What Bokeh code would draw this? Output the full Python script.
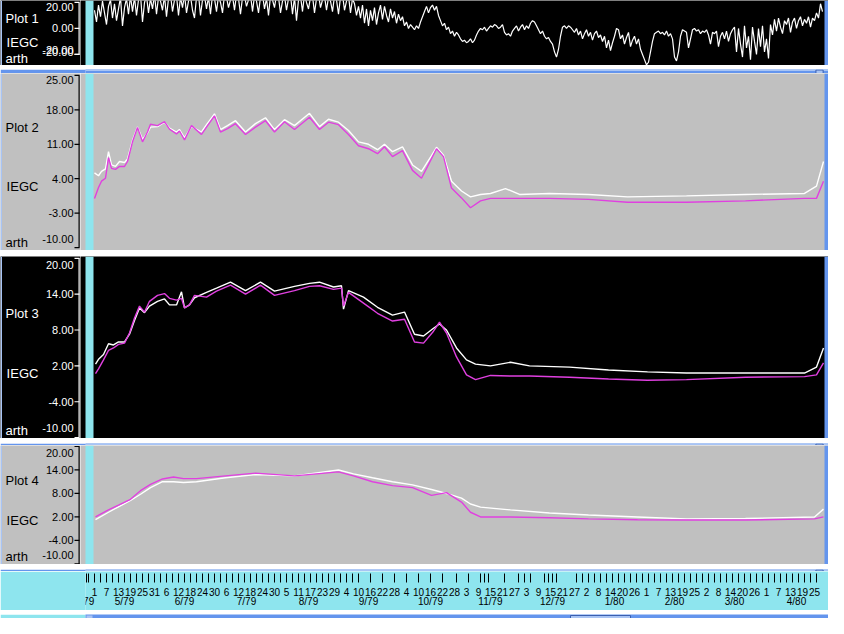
from bokeh.plotting import figure
from bokeh.layouts import column, row
from bokeh.models import Range1d
from bokeh.embed import file_html
from bokeh.resources import INLINE
from bokeh.core.properties import value

# ---------------- data ----------------
# days counted from 1 May 1979, one reading per day
p1_days = list(range(0, 365))
p1_white = [14, 5, 18, 9, 21, 12, 3, 17, 22, 8,
            19, 6, 15, 24, 2, 16, 23, 11, 25, 13,
            24, 10, 22, 26, 5, 20, 25, 12, 23, 15,
            26, 11, 24, 21, 14, 25, 9, 23, 26, 13,
            22, 25, 10, 24, 16, 26, 12, 21, 25, 14,
            8, 24, 26, 10, 22, 25, 15, 24, 11, 26,
            23, 13, 25, 20, 12, 26, 24, 16, 22, 25,
            14, 26, 23, 11, 24, 25, 17, 22, 26, 13,
            25, 21, 12, 24, 26, 15, 23, 10, 25, 22,
            16, 26, 24, 12, 21, 25, 14, 23, 26, 11,
            24, 6, 22, 25, 13, 26, 20, 15, 24, 25,
            12, 23, 26, 16, 22, 25, 14, 24, 21, 13,
            25, 22, 11, 24, 26, 14, 21, 25, 12, 23,
            19, 10, 17, 8, 18, 4, 15, 2, 14, 6,
            16, 3, 12, 18, 7, 17, 10, 5, 15, 8,
            13, 4, 11, 6, 9, 2, 5, 0, 3, 1,
            -1, 2, 0, 5, 9, 13, 17, 12, 16, 18,
            14, 17, 10, 6, 2, 4, -1, 1, -4, -2,
            -6, -3, -5, -8, -10, -9, -11, -10, -8, -11,
            -9, -5, -2, 0, -1, 1, -2, 0, 2, 1,
            3, 2, 0, 1, 3, -3, -5, -4, -6, -2,
            0, 2, -2, 1, 3, -1, 2, 0, 4, 6,
            5, 2, -1, -4, -2, -6, -8, -7, -10, -12,
            -18, -22, -16, -6, 1, 2, 0, 2, 1, -1,
            -3, 0, -5, -2, -8, -4, -1, -6, -3, -9,
            -4, -2, -7, -5, -10, -6, -15, -9, -17, -11,
            -6, 0, -1, -8, -5, -12, -7, -3, -14, -9,
            -6, -12, -8, -16, -20, -24, -28, -26, -18, -10,
            -4, -3, -2, -4, -3, -5, -2, -6, -4, -8,
            -22, -25, -18, -6, -1, -2, -3, -15, -8, -1,
            0, -2, -1, -4, -2, -3, -1, -5, -12, -3,
            -4, -2, -14, -6, -3, -8, -2, -10, -4, -1,
            1, -18, 0, -12, -22, 2, -15, -6, -24, 1,
            -10, -20, 0, -14, 2, -18, -8, -23, 3, -5,
            7, -2, 8, 1, -4, 6, 3, 8, -3, 5,
            8, 0, 6, 9, 2, 7, 4, 9, 1, 8,
            6, 12, 8, 19, 13]

p2_days = [0, 2, 3.5, 5.5, 7, 8.5, 10.5, 12.5, 15, 16.5, 19, 21.5, 24, 26.5, 28, 31.5, 35, 37.5, 41, 42.5,
           45, 48.5, 53.5, 56, 60, 63, 66.5, 70.5, 75.5, 80.5, 85.5, 90, 95, 100, 107.5, 112.5, 117, 122, 127, 132,
           137, 141.5, 145, 149, 154, 159, 163.5, 168.5, 171, 174.5, 178.5, 183.5, 188, 193, 198, 205.5, 212.5,
           227.5, 247, 266.5, 296, 325.5, 355, 361, 364.5]
p2_magenta = [0.0, 2.2, 3.5, 4.1, 8.3, 6.1, 5.9, 6.5, 6.5, 7.5, 11.5, 14.4, 11.5, 13.5, 15.1, 14.8, 15.6, 14.1, 13.1, 13.7,
              11.9, 14.8, 13.0, 14.5, 16.8, 13.5, 14.2, 15.2, 13.0, 14.5, 15.8, 13.5, 15.6, 14.0, 16.5, 14.0, 15.5, 15.0, 13.0, 10.7,
              10.1, 9.1, 10.5, 8.5, 9.7, 5.7, 4.1, 8.1, 10.1, 8.5, 2.1, 0.1, -1.9, -0.5, 0.0, 0.0, 0.0,
              0.0, -0.2, -0.8, -0.8, -0.5, 0.0, 0.0, 3.5]
p2_white = [5.2, 4.6, 5.5, 6.0, 9.5, 6.8, 6.5, 7.5, 7.3, 8.0, 11.8, 14.5, 12.0, 13.3, 14.5, 14.6, 15.5, 14.3, 13.5, 14.0,
            12.3, 14.6, 13.5, 15.0, 17.2, 14.0, 14.8, 15.8, 13.5, 15.2, 16.4, 14.0, 16.0, 14.8, 17.3, 14.6, 16.1, 15.5, 13.8, 11.5,
            11.0, 9.9, 11.0, 9.5, 10.5, 6.8, 5.5, 8.7, 10.4, 8.8, 3.5, 1.5, 0.3, 0.8, 1.0, 2.0, 0.8,
            1.0, 0.8, 0.3, 0.5, 0.8, 1.0, 2.5, 7.5]

p3_days = [0.5, 2, 4.5, 7, 9.5, 12, 15, 17.5, 20, 22.5, 25, 27.5, 31.5, 35, 37.5, 41, 43.5, 45, 47.5, 50,
           56, 61, 68, 75.5, 83, 90, 100, 107.5, 112.5, 119.5, 123.5, 124.5, 127, 134.5, 141.5, 149, 155, 160, 164.5,
           169.5, 172.5, 176, 181, 186, 190.5, 198, 208, 217.5, 237.5, 257, 276.5, 296, 325.5, 355, 361, 364.5]
p3_magenta = [0.7, 1.5, 3.0, 4.6, 5.0, 5.6, 5.8, 7.5, 10.0, 12.0, 11.0, 12.8, 13.8, 14.1, 13.3, 13.0, 13.3, 11.7, 12.2, 13.8,
              13.5, 14.5, 15.5, 14.0, 15.5, 13.8, 14.6, 15.3, 15.4, 14.8, 15.0, 12.0, 14.3, 12.5, 10.8, 9.5, 9.8, 6.0, 5.8,
              7.8, 9.3, 7.5, 3.5, 0.5, -0.3, 0.4, 0.3, 0.3, 0.1, -0.2, -0.4, -0.3, 0.1, 0.2, 0.5, 2.5]
p3_white = [2.3, 3.1, 3.9, 5.7, 5.5, 6.0, 6.0, 7.3, 9.6, 11.7, 10.9, 12.0, 12.8, 13.2, 12.2, 12.2, 14.4, 11.7, 12.2, 13.4,
            14.3, 15.0, 16.0, 14.6, 16.0, 14.5, 15.3, 15.8, 16.0, 15.2, 15.4, 11.5, 14.6, 13.5, 11.8, 10.5, 11.0, 7.3, 7.0,
            8.3, 9.0, 8.0, 5.0, 3.0, 2.3, 2.0, 2.6, 2.0, 1.8, 1.3, 1.0, 0.8, 0.8, 0.8, 1.8, 5.0]

p4_days = [0.5, 7, 12, 18, 23, 28, 34, 39.5, 44.5, 51, 65.5, 80.5, 100, 122, 129.5, 139, 149, 159, 168.5, 176,
           183.5, 188, 193, 208, 227.5, 247, 271.5, 296, 325.5, 360, 364.5]
p4_magenta = [2.0, 3.8, 5.0, 6.5, 8.7, 10.3, 11.7, 12.2, 11.8, 11.8, 12.5, 13.2, 12.5, 13.5, 12.5, 11.0, 10.0, 9.5, 7.5, 8.2,
              5.8, 3.2, 2.0, 2.0, 1.8, 1.5, 1.3, 1.2, 1.2, 1.5, 2.0]
p4_white = [1.3, 3.2, 4.6, 6.2, 7.8, 9.5, 11.0, 11.0, 10.8, 11.0, 12.0, 12.8, 12.5, 14.0, 13.0, 12.0, 11.0, 10.2, 9.0, 8.0,
            6.8, 5.3, 4.5, 3.8, 3.0, 2.5, 2.0, 1.5, 1.6, 2.0, 4.0]

p1_ticks = [20, 0, -20, -20]
p1_tick_labels = ["20.00", "0.00", "-20.00", "-20.00"]
p2_ticks = [25, 18, 11, 4, -3, -10]
p2_tick_labels = ["25.00", "18.00", "11.00", "4.00", "-3.00", "-10.00"]
p3_ticks = [20, 14, 8, 2, -4, -10]
p3_tick_labels = ["20.00", "14.00", "8.00", "2.00", "-4.00", "-10.00"]
p4_ticks = [20, 14, 8, 2, -4, -10]
p4_tick_labels = ["20.00", "14.00", "8.00", "2.00", "-4.00", "-10.00"]

day_tick_days = list(range(0, 361, 6))
day_tick_labels = ["1", "7", "13", "19", "25", "31", "6", "12", "18", "24", "30", "6", "12", "18", "24", "30",
                   "5", "11", "17", "23", "29", "4", "10", "16", "22", "28", "4", "10", "16", "22", "28",
                   "3", "9", "15", "21", "27", "3", "9", "15", "21", "27", "2", "8", "14", "20", "26",
                   "1", "7", "13", "19", "25", "2", "8", "14", "20", "26", "1", "7", "13", "19", "25"]
# sample-time marks along the time axis (dense, then sparse, then dense again)
sample_mark_days = ([-4] + list(range(-3, 133, 3))
                    + [138, 144, 150, 156, 162, 168, 174, 181, 187, 193, 195, 197, 205, 212, 215, 218,
                       225, 227, 229, 231]
                    + list(range(241, 364, 3)))
month_days = [-5, 15, 45, 76, 107, 137, 168, 198, 229, 260, 290, 320, 351]
month_labels = ["4/79", "5/79", "6/79", "7/79", "8/79", "9/79", "10/79", "11/79", "12/79", "1/80", "2/80", "3/80", "4/80"]

# ---------------- style ----------------
W = 828
LEFT = 80
X0, X1 = -7.0, 367.0
BLUE = "#6495ed"
BLUE_LIGHT = "#a8c4f4"
BLUE_DARK = "#3a5fb0"
CYAN = "#8ee5ee"
GRAY = "#c0c0c0"
MAGENTA = "#e040e0"
FONT = "Liberation Sans"


def base(w, h, xr, yr, bg, border, left=0):
    p = figure(width=w, height=h, x_range=xr, y_range=yr, output_backend="svg",
               toolbar_location=None, x_axis_location=None, y_axis_location=None,
               min_border_left=left, min_border_right=0, min_border_top=0, min_border_bottom=0,
               background_fill_color=bg, border_fill_color=border, outline_line_color=None)
    p.grid.visible = False
    return p


def panel(n, h, bg, fg, yr, ticks, labels, offs, name_y, series):
    yrange = Range1d(*yr)
    # left strip: names, tick labels and the value axis
    lf = base(LEFT, h, Range1d(0, LEFT), yrange, bg, bg)
    lf.extra_y_ranges = {"px": Range1d(0, h)}
    k = len(ticks)
    lf.quad(left=[0], right=[1.5], bottom=[yr[0]], top=[yr[1]], fill_color=BLUE_LIGHT, line_color=None)
    lf.quad(left=[78], right=[79.2], bottom=[min(ticks)], top=[max(ticks)], fill_color=fg, line_color=None)
    lf.segment(x0=[74] * k, y0=ticks, x1=[79] * k, y1=ticks, line_color=fg, line_width=1.2)
    lf.text(x=[73] * k, y=ticks, text=labels, y_offset=offs, text_align="right", text_baseline="middle",
            text_font=value(FONT), text_font_size="11px", text_color=fg)
    lf.text(x=[5, 22, 5], y=name_y, text=["Plot %d" % n, "IEGC", "arth"], y_range_name="px",
            text_align=["left", "center", "left"], text_baseline="middle",
            text_font=value(FONT), text_font_size="13px", text_color=fg)
    # plotting frame
    pf = base(W - LEFT, h, Range1d(X0, X1), yrange, bg, bg)
    pf.quad(left=[-4.5], right=[-0.5], top=[yr[1]], bottom=[yr[0]], fill_color=CYAN, line_color=None)
    pf.quad(left=[365], right=[X1], top=[yr[1]], bottom=[yr[0]], fill_color=BLUE, line_color=None)
    for xs, ys, c, lw in series:
        pf.line(xs, ys, line_color=c, line_width=lw)
    return row(lf, pf, spacing=0)


def separator(h):
    s = base(W, h, Range1d(0, W), Range1d(0, h), BLUE, BLUE)
    s.quad(left=[0], right=[W], top=[h], bottom=[h - 1.5], fill_color=BLUE_LIGHT, line_color=None)
    s.quad(left=[814], right=[822], top=[h - 0.5], bottom=[0.5], fill_color=BLUE_LIGHT, line_color=BLUE_DARK)
    return s


p1 = panel(1, 65, "black", "white", (-28.5, 21.5), p1_ticks, p1_tick_labels, [5, 0, -2, -4],
           [47, 23, 7], [(p1_days, p1_white, "white", 1.2)])
p2 = panel(2, 177, GRAY, "black", (-10.6, 25.4), p2_ticks, p2_tick_labels, [5, 0, 0, 0, 0, -9],
           [123, 64, 8], [(p2_days, p2_white, "white", 1.4), (p2_days, p2_magenta, MAGENTA, 1.4)])
p3 = panel(3, 182, "black", "white", (-10.15, 20.3), p3_ticks, p3_tick_labels, [7, 0, 0, 0, 0, -10],
           [125, 65, 8], [(p3_days, p3_white, "white", 1.4), (p3_days, p3_magenta, MAGENTA, 1.4)])
p4 = panel(4, 119, GRAY, "black", (-10.15, 20.25), p4_ticks, p4_tick_labels, [7, 0, 0, 0, 0, -9],
           [84, 44, 8], [(p4_days, p4_white, "white", 1.4), (p4_days, p4_magenta, MAGENTA, 1.4)])

# time axis strip
AXL = 85
ax_fig = base(W, 39, Range1d(-4.5, X1), Range1d(39, 0), CYAN, CYAN, AXL)
ax_fig.segment(x0=sample_mark_days, y0=[2] * len(sample_mark_days), x1=sample_mark_days,
               y1=[11] * len(sample_mark_days), line_color="black", line_width=1)
ax_fig.text(x=day_tick_days, y=[20] * len(day_tick_days), text=day_tick_labels, text_align="center",
            text_baseline="middle", text_font=value(FONT), text_font_size="10px", text_color="black")
ax_fig.text(x=month_days, y=[30] * len(month_days), text=month_labels, text_align="center",
            text_baseline="middle", text_font=value(FONT), text_font_size="10px", text_color="black")

scroll = base(W, 8, Range1d(-4.5, X1), Range1d(0, 8), BLUE, CYAN, AXL)
scroll.quad(left=[238], right=[268], top=[7], bottom=[1], fill_color=BLUE_LIGHT, line_color=BLUE_DARK)
scroll.quad(left=[-4], right=[-1], top=[7], bottom=[1], fill_color=BLUE_LIGHT, line_color=None)

layout = column(p1, separator(8), p2, separator(6), p3, separator(7), p4, separator(7), ax_fig, scroll, spacing=0)

open("out.html", "w").write(file_html(layout, INLINE))
